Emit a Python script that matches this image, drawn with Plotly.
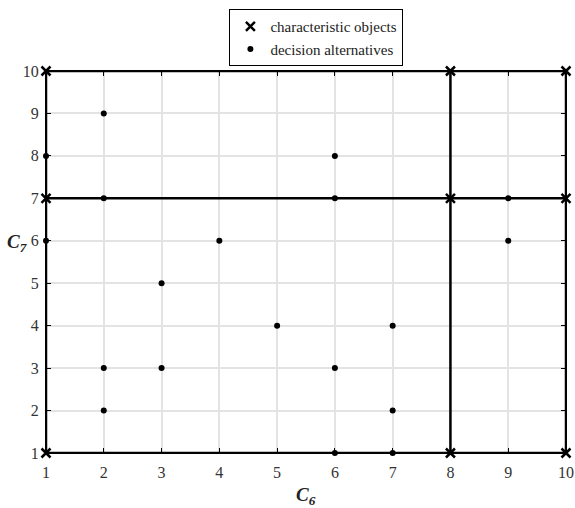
import plotly.graph_objects as go

# Decision alternatives (C6, C7)
alt_c6 = [2, 1, 6, 2, 6, 9, 1, 4, 9, 3, 5, 7, 2, 3, 6, 2, 7, 6, 7]
alt_c7 = [9, 8, 8, 7, 7, 7, 6, 6, 6, 5, 4, 4, 3, 3, 3, 2, 2, 1, 1]

# Characteristic value levels
c6_levels = [1, 8, 10]
c7_levels = [1, 7, 10]

tick_vals = [1, 2, 3, 4, 5, 6, 7, 8, 9, 10]

# characteristic objects = all combinations
co_c6 = [a for a in c6_levels for b in c7_levels]
co_c7 = [b for a in c6_levels for b in c7_levels]

serif = "Liberation Serif"
fig = go.Figure()

# grid partition lines
for v in c6_levels:
    fig.add_trace(go.Scatter(x=[v, v], y=[min(c7_levels), max(c7_levels)], mode="lines",
                             line=dict(color="black", width=2.5), showlegend=False,
                             hoverinfo="skip", cliponaxis=False))
for v in c7_levels:
    fig.add_trace(go.Scatter(x=[min(c6_levels), max(c6_levels)], y=[v, v], mode="lines",
                             line=dict(color="black", width=2.5), showlegend=False,
                             hoverinfo="skip", cliponaxis=False))

fig.add_trace(go.Scatter(x=co_c6, y=co_c7, mode="markers", name="characteristic objects",
                         cliponaxis=False,
                         marker=dict(symbol="x-thin", size=9, color="black",
                                     line=dict(color="black", width=2.5))))
fig.add_trace(go.Scatter(x=alt_c6, y=alt_c7, mode="markers", name="decision alternatives",
                         cliponaxis=False,
                         marker=dict(symbol="circle", size=6, color="black")))

axis_common = dict(
    range=[1, 10], tickvals=tick_vals, ticks="inside", ticklen=5, tickcolor="black",
    tickwidth=1, showgrid=True, gridcolor="#e3e3e3", gridwidth=1.5, zeroline=False,
    showline=True, linecolor="black", linewidth=1, mirror="ticks", automargin=False,
    tickfont=dict(family=serif, size=16, color="#333333"),
)
fig.update_xaxes(**axis_common, ticklabelstandoff=5)
fig.update_yaxes(**axis_common, ticklabelstandoff=3)

fig.add_annotation(text="<b><i>C</i></b><sub><b><i>6</i></b></sub>", xref="paper", yref="paper",
                   x=0.5, y=-0.075, xanchor="center", yanchor="top", showarrow=False,
                   font=dict(family=serif, size=19, color="#222222"))
fig.add_annotation(text="<b><i>C</i></b><sub><b><i>7</i></b></sub>", xref="paper", yref="paper",
                   x=-0.03, y=0.55, xanchor="right", yanchor="middle", showarrow=False,
                   font=dict(family=serif, size=19, color="#222222"))

fig.update_layout(
    width=575, height=508, autosize=False,
    margin=dict(l=46, r=9, t=71, b=55, autoexpand=False),
    paper_bgcolor="white", plot_bgcolor="white",
    legend=dict(x=0.52, xanchor="center", xref="paper", y=0.982, yanchor="top", yref="container",
                bordercolor="black", borderwidth=1, bgcolor="white",
                font=dict(family=serif, size=15, color="#222222"),
                tracegroupgap=0, itemwidth=30),
    showlegend=True,
)

fig.write_html("out.html", config={"displayModeBar": False},
               post_script="document.body.style.margin='0';")
